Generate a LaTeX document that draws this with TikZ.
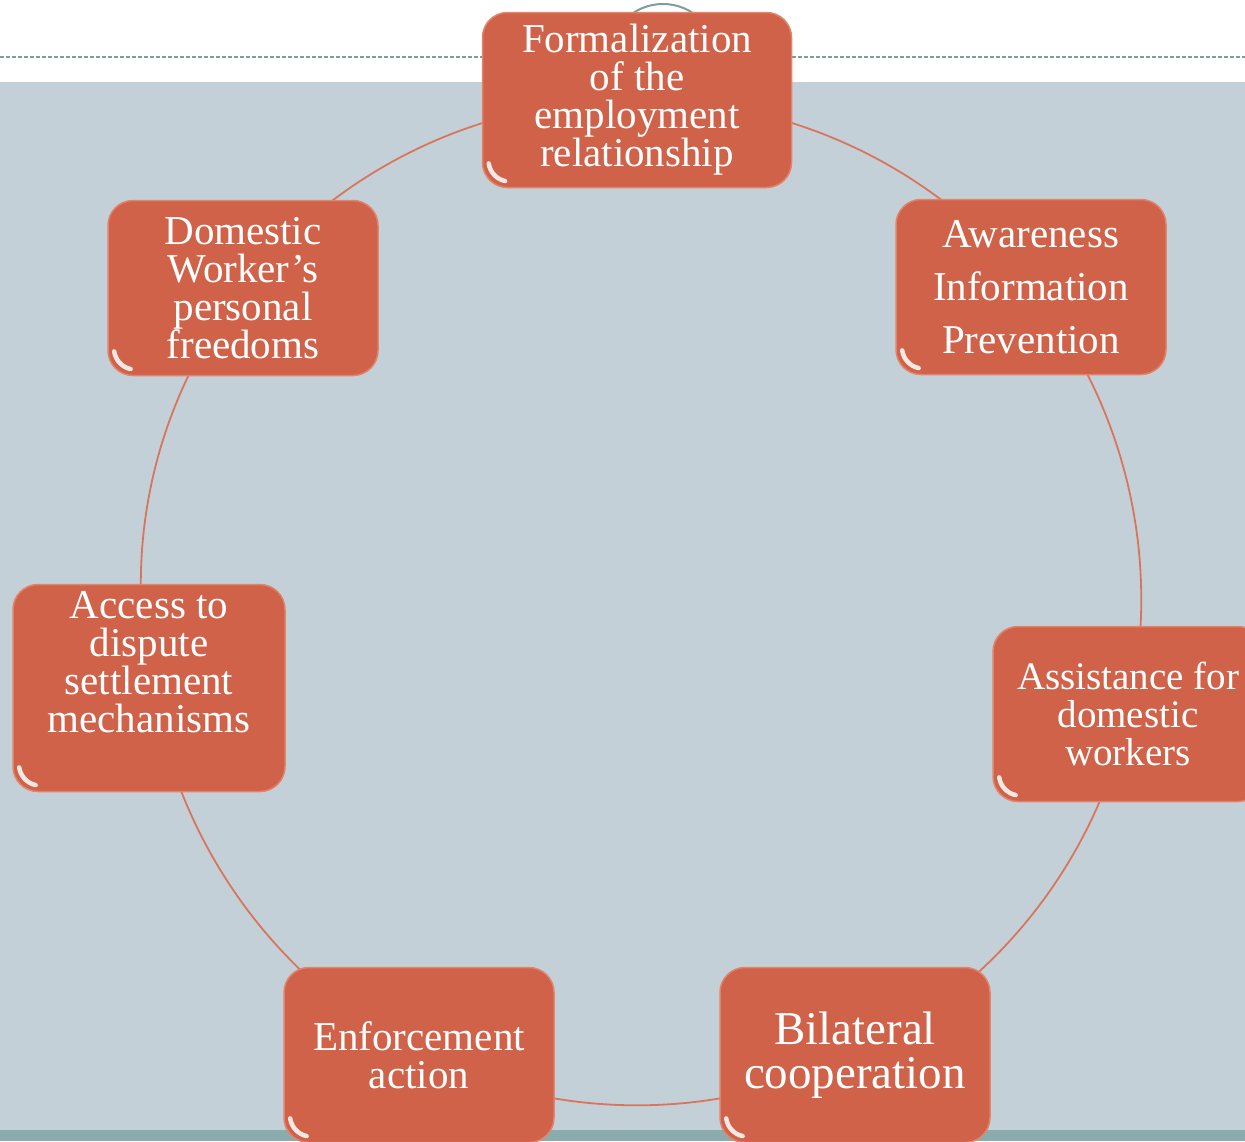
\documentclass[tikz,border=0pt]{standalone}
\usepackage{fontspec}
\setmainfont{Liberation Serif}
\usetikzlibrary{backgrounds}

\definecolor{pagetint}{HTML}{C4D0D7}
\definecolor{footband}{HTML}{8AACAC}
\definecolor{ruleteal}{HTML}{7E9D9D}
\definecolor{pillfill}{HTML}{D06249}
\definecolor{pillrim}{HTML}{E2836B}
\definecolor{ringline}{HTML}{D8755D}

\tikzset{
  pill/.style={draw=pillrim, line width=1.5pt, fill=pillfill, rounded corners=25pt,
    text=white, align=center, inner sep=0pt,
    minimum width=270pt, minimum height=175pt,
    font=\fontsize{41}{38}\selectfont,
    path picture={\draw[white, line width=4.5pt, line cap=round, opacity=.85]
      ([shift={(27pt,27pt)}]path picture bounding box.south west) ++(188:21pt)
      arc[start angle=188, end angle=258, radius=21pt];}},
  ring/.style={draw=ringline, line width=1.8pt, bend left=26, looseness=.9},
}

\begin{document}
\begin{tikzpicture}[x=1pt,y=-1pt]
\useasboundingbox (0,0) rectangle (1245,1141);
\clip (0,0) rectangle (1245,1141);

% the seven boxes, clockwise from the top
\node[pill, minimum width=309pt] (formal) at (637,100)
  {Formalization\\of the\\employment\\relationship};
\node[pill, font=\fontsize{41}{53}\selectfont] (aware) at (1031,287)
  {Awareness\\Information\\Prevention};
\node[pill, font=\fontsize{39}{38}\selectfont] (assist) at (1128,714)
  {Assistance for\\domestic\\workers};
\node[pill, font=\fontsize{47}{44}\selectfont] (bilat) at (855,1055)
  {Bilateral\\cooperation};
\node[pill] (enforce) at (419,1055) {Enforcement\\action};
\node[pill, minimum width=272pt, minimum height=207pt] (access) at (149,688)
  {Access to\\dispute\\settlement\\mechanisms\rule[-52pt]{0pt}{0pt}};
\node[pill] (freedom) at (243,288) {Domestic\\Worker’s\\personal\\freedoms};

\begin{scope}[on background layer]
\fill[pagetint] (0,82) rectangle (1245,1130);
\fill[footband] (0,1130) rectangle (1245,1141);
\draw[ruleteal, line width=1.2pt, dash pattern=on 4pt off 2pt] (0,57) -- (1245,57);
\draw[ruleteal, line width=2pt] (663,58) circle[radius=54pt];
% ring
\draw[ring] (formal.center) to (aware.center) to (assist.center)
  to (bilat.center) to (enforce.center) to ([shift={(6pt,-12pt)}]access.center)
  to (freedom.center) to (formal.center);
\end{scope}
\end{tikzpicture}
\end{document}
